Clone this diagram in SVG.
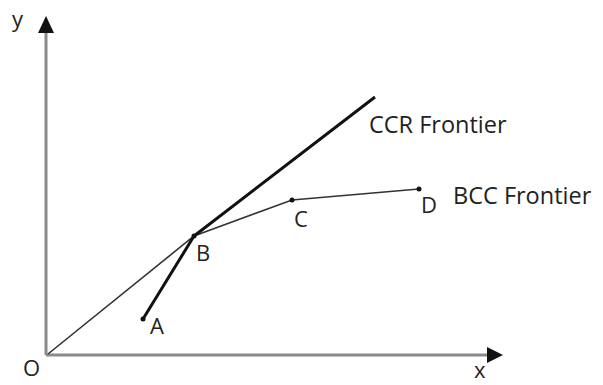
<svg xmlns="http://www.w3.org/2000/svg" width="603" height="385" viewBox="0 0 603 385">
<style>
.axis{stroke:#8a8a8a;stroke-width:3;fill:none}
.bcc{stroke:#333;stroke-width:1.6;fill:none}
.ccr{stroke:#111;stroke-width:3;fill:none;stroke-linejoin:round}
.dot{fill:#111}
text{font-family:"Open Sans","Liberation Sans",sans-serif;fill:#222}
.lbl{font-size:22px}
.fr{font-size:23.5px}
</style>
<rect width="603" height="385" fill="#fff"/>
<g id="connectors">
<line class="axis" x1="46" y1="355" x2="46" y2="33"/>
<path d="M46,16 L38,33 L54,33 z" fill="#111"/>
<line class="axis" x1="46" y1="355" x2="487" y2="355"/>
<path d="M503,355 L487,347 L487,363 z" fill="#111"/>
<polyline class="bcc" points="48,354 194,236 292,200 419,189"/>
<polyline class="ccr" points="143,319 194,236 375,97"/>
</g>
<g id="A"><circle class="dot" cx="143" cy="319" r="2.5"/><text class="lbl" x="150" y="334">A</text></g>
<g id="B"><circle class="dot" cx="194" cy="236" r="2.5"/><text class="lbl" x="196" y="261">B</text></g>
<g id="C"><circle class="dot" cx="292" cy="200" r="2.5"/><text class="lbl" x="294" y="227">C</text></g>
<g id="D"><circle class="dot" cx="419" cy="189" r="2.5"/><text class="lbl" x="421" y="213">D</text></g>
<g id="labels">
<text class="fr" x="369" y="133">CCR Frontier</text>
<text class="fr" x="453" y="204">BCC Frontier</text>
<text class="lbl" x="23" y="376">O</text>
<text class="lbl" x="12" y="27">y</text>
<text class="lbl" x="474" y="378">x</text>
</g>
</svg>
